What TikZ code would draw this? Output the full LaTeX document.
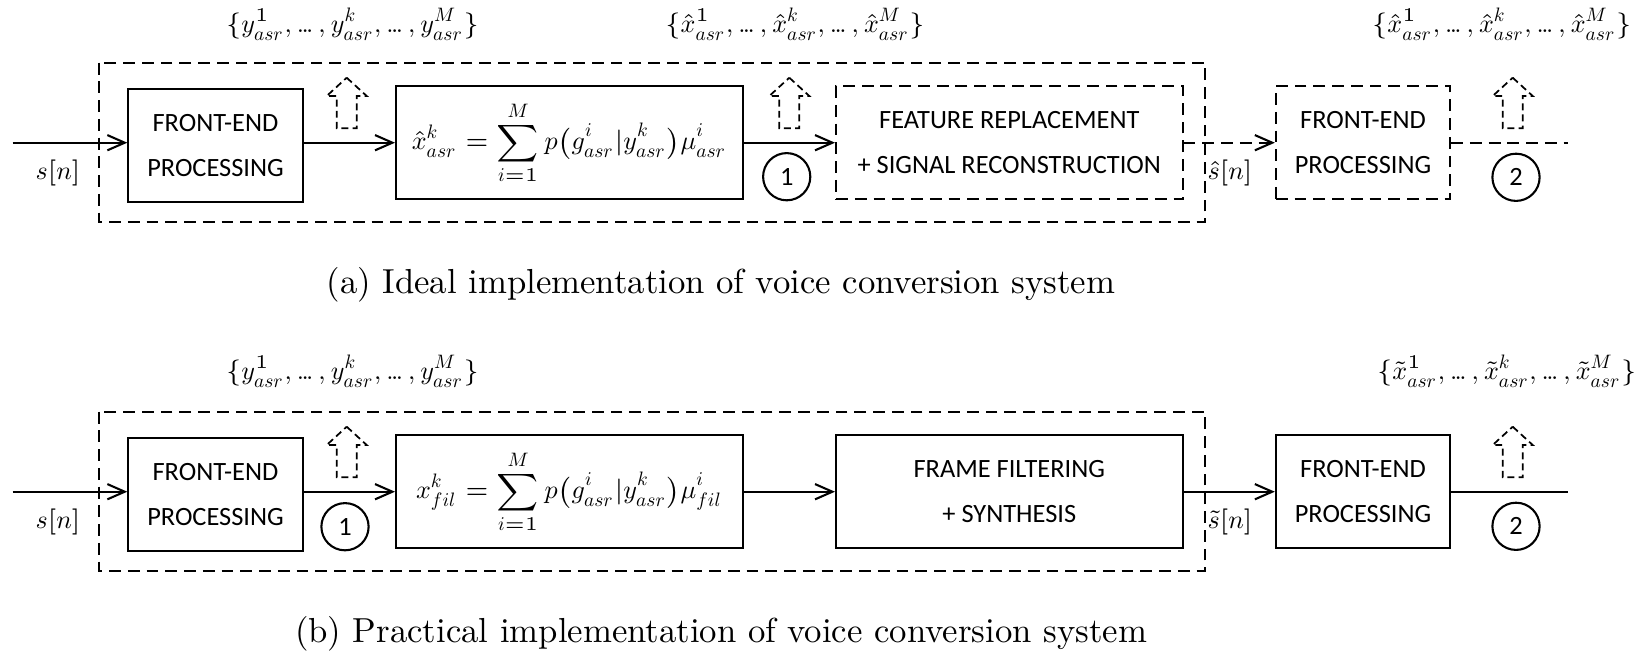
\documentclass[tikz,border=0pt]{standalone}
\usepackage{fix-cm}
\usepackage{amsmath}
\usepackage{fontspec}
\newfontfamily\boxfont{Carlito}
\usetikzlibrary{arrows.meta}
% one design size of math italic, scaled to every size (keeps scripts compact)
\DeclareFontShape{OML}{cmm}{m}{it}{<->cmmi10}{}
\DeclareMathSizes{7.5}{7.5}{5.6}{4.5}
% compact ellipsis for the feature-sequence labels
\newcommand\tdots{\mathinner{.\mkern-1.5mu.\mkern-1.5mu.}}

\tikzset{
  blk/.style={draw, line width=0.6pt, align=center, inner sep=0pt,
    font=\boxfont\fontsize{7.6}{13}\selectfont},
  blkdash/.style={blk, dash pattern=on 3.4pt off 2pt},
  febox/.style={minimum width=50.2pt, minimum height=32.5pt},
  widebox/.style={minimum width=99.8pt, minimum height=32.6pt},
  mathlbl/.style={inner sep=0pt, font=\fontsize{7.5}{9}\selectfont},
  numcirc/.style={draw, circle, line width=0.6pt, minimum size=13.6pt, inner sep=0pt,
    font=\boxfont\fontsize{7.6}{9}\selectfont},
  conn/.style={line width=0.6pt, -{Straight Barb[length=5pt,width=4.4pt]}},
  connline/.style={line width=0.6pt},
  dashpat/.style={dash pattern=on 3.4pt off 2pt},
  groupbox/.style={line width=0.6pt, dash pattern=on 3.4pt off 2pt},
  updash/.style={line width=0.5pt, dash pattern=on 2pt off 1.2pt},
  hollowup/.pic={
    \draw[updash] (0,0) -- (20,18.3) -- (10,18.3) -- (10,50.6)
      -- (-10,50.6) -- (-10,18.3) -- (-20,18.3) -- cycle;
  },
  captext/.style={inner sep=0pt, font=\fontsize{10}{12}\selectfont}
}

\begin{document}
\begin{tikzpicture}[x=0.288pt, y=-0.288pt]
\useasboundingbox (0,0) rectangle (1648,653);

% ---------- (a) ideal implementation ----------
\draw[groupbox] (99.3,62.7) rectangle (1205,221.7);

\node[blk, febox] (feA) at (215.5,145.8) {FRONT-END\\PROCESSING};
\node[blk, widebox, font=\fontsize{7.5}{9}\selectfont] (gmmA) at (569.3,142.7)
  {$\hat{x}^k_{asr} = \displaystyle\sum_{i=1}^{M} p\bigl(g^i_{asr}|y^k_{asr}\bigr)\mu^i_{asr}$};
\node[blkdash, widebox] (repA) at (1009.3,142.7) {FEATURE REPLACEMENT\\+ SIGNAL RECONSTRUCTION};
\node[blkdash, febox, minimum height=32.6pt] (fe2A) at (1363,142.7) {FRONT-END\\PROCESSING};

\coordinate (inA) at (12.7,142.7);
\coordinate (outA) at (1568.3,142.7);
\draw[conn] (inA) -- (feA.west |- inA);
\draw[conn] (feA.east |- gmmA.west) -- (gmmA.west);
\draw[conn] (gmmA.east) -- (repA.west);
\draw[conn, dashpat] (repA.east) -- (fe2A.west);
\draw[connline, dashpat] (fe2A.east) -- (outA);

\node[mathlbl] (snA) at (58,173) {$s[n]$};
\node[mathlbl] (shatA) at (1230,173) {$\hat{s}[n]$};

\pic at (346.7,77.7) {hollowup};
\pic at (789.3,77.7) {hollowup};
\pic at (1512.7,77.7) {hollowup};

\node[numcirc] (oneA) at (786.7,176.7) {1};
\node[numcirc] (twoA) at (1516,177.3) {2};

\node[mathlbl] (yA) at (352.5,24)
  {$\{y^1_{asr},\tdots,y^k_{asr},\tdots,y^M_{asr}\}$};
\node[mathlbl] (xA) at (795,24)
  {$\{\hat{x}^1_{asr},\tdots,\hat{x}^k_{asr},\tdots,\hat{x}^M_{asr}\}$};
\node[mathlbl, anchor=east] (x2A) at (1632,24)
  {$\{\hat{x}^1_{asr},\tdots,\hat{x}^k_{asr},\tdots,\hat{x}^M_{asr}\}$};

\node[captext] (capA) at (721,285) {(a) Ideal implementation of voice conversion system};

% ---------- (b) practical implementation ----------
\begin{scope}[yshift=-349*0.288pt]
\draw[groupbox] (99.3,62.7) rectangle (1205,221.7);

\node[blk, febox] (feB) at (215.5,145.8) {FRONT-END\\PROCESSING};
\node[blk, widebox, font=\fontsize{7.5}{9}\selectfont] (gmmB) at (569.3,142.7)
  {$x^k_{fil} = \displaystyle\sum_{i=1}^{M} p\bigl(g^i_{asr}|y^k_{asr}\bigr)\mu^i_{fil}$};
\node[blk, widebox] (filB) at (1009.3,142.7) {FRAME FILTERING\\+ SYNTHESIS};
\node[blk, febox, minimum height=32.6pt] (fe2B) at (1363,142.7) {FRONT-END\\PROCESSING};

\coordinate (inB) at (12.7,142.7);
\coordinate (outB) at (1568.3,142.7);
\draw[conn] (inB) -- (feB.west |- inB);
\draw[conn] (feB.east |- gmmB.west) -- (gmmB.west);
\draw[conn] (gmmB.east) -- (filB.west);
\draw[conn] (filB.east) -- (fe2B.west);
\draw[connline] (fe2B.east) -- (outB);

\node[mathlbl] (snB) at (58,173) {$s[n]$};
\node[mathlbl] (stilB) at (1230,173) {$\tilde{s}[n]$};

\pic at (346.7,77.7) {hollowup};
\pic at (1512.7,77.7) {hollowup};

\node[numcirc] (oneB) at (345,177.7) {1};
\node[numcirc] (twoB) at (1516,177.3) {2};

\node[mathlbl] (yB) at (352.5,22)
  {$\{y^1_{asr},\tdots,y^k_{asr},\tdots,y^M_{asr}\}$};
\node[mathlbl, anchor=east] (xB) at (1637,22)
  {$\{\tilde{x}^1_{asr},\tdots,\tilde{x}^k_{asr},\tdots,\tilde{x}^M_{asr}\}$};

\node[captext] (capB) at (721,285) {(b) Practical implementation of voice conversion system};
\end{scope}
\end{tikzpicture}
\end{document}
